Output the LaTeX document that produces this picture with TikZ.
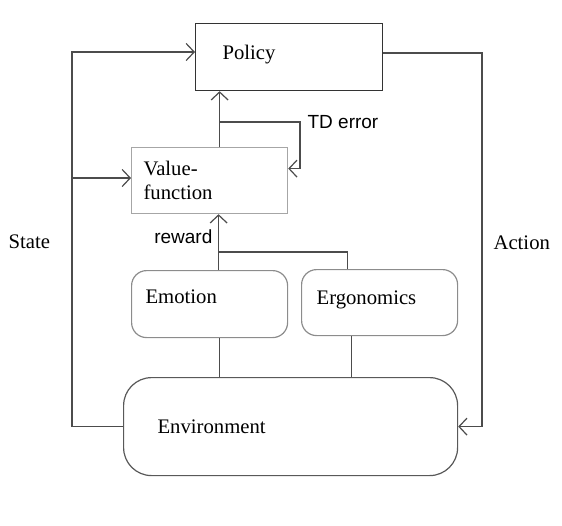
\documentclass[tikz,border=0pt]{standalone}
\usepackage{fontspec}
\setmainfont{Liberation Serif}
\newfontfamily\labelfont{Liberation Sans}
\usetikzlibrary{arrows.meta}

\begin{document}
\begin{tikzpicture}[
		x=1pt, y=-1pt,
		line width=1.2pt,
		every node/.style={font=\fontsize{20.7}{24}\selectfont},
		block/.style={draw, anchor=north west, align=left, inner ysep=0pt},
		wire/.style={draw=black!70},
		arr/.style={wire, -{Straight Barb[length=8pt,width=17pt]}},
		sidelabel/.style={font=\labelfont\fontsize{19}{22}\selectfont, inner sep=0pt}
		]
		\useasboundingbox (0,0) rectangle (562,525);
		
		% boxes
		\node[block, draw=black!80, minimum height=67pt, inner xsep=27pt, text width=133pt, text depth=9pt] (policy) at (195,23) {Policy};
		\node[block, draw=black!35, minimum height=66pt, inner xsep=12pt, text width=132pt] (value) at (131,147) {Value-\\function};
		\node[block, draw=black!45, rounded corners=15pt, minimum height=67pt, inner xsep=14pt, text width=128pt, text depth=15pt] (emotion) at (131,270) {Emotion};
		\node[block, draw=black!45, rounded corners=15pt, minimum height=66pt, inner xsep=15pt, text width=126pt, text depth=10pt] (ergo) at (301,269) {Ergonomics};
		\node[block, draw=black!65, rounded corners=28pt, minimum height=98pt, inner xsep=34pt, text width=266pt] (env) at (123,377) {Environment};
		
		% junctions
		\coordinate (tdfork) at (219,122);
		\coordinate (tdturn) at (300,122);
		\coordinate (stateup) at (72,52);
		\coordinate (statemid) at (72,178);
		\coordinate (act) at (482,53);
		\coordinate (rwfork) at (218,252);
		
		% value -> policy, TD error loop
		\draw[arr] ([xshift=10pt]value.north) -- ([xshift=10pt]value.north |- policy.south);
		\draw[arr] (tdfork) -- (tdturn) |- ([yshift=12pt]value.east);
		\node[sidelabel, anchor=west] (tdlabel) at (307,122) {TD error};
		
		% state
		\draw[arr] (env.west) -| (stateup) -- (stateup -| policy.west);
		\draw[arr] (statemid) -- (statemid -| value.west);
		\node[inner sep=0pt, anchor=west] (statelabel) at (8,242) {State};
		
		% action
		\draw[arr] (policy.east |- act) -- (act) |- (env.east);
		\node[inner sep=0pt, anchor=west] (actlabel) at (493,243) {Action};
		
		% reward
		\draw[arr] ([xshift=9pt]emotion.north) -- ([xshift=9pt]emotion.north |- value.south);
		\draw[wire] (rwfork) -| ([xshift=-32pt]ergo.north);
		\node[sidelabel, anchor=east] (rwlabel) at (213,237) {reward};
		
		% environment -> emotion, ergonomics
		\draw[wire] ([xshift=10pt]emotion.south) -- ([xshift=10pt]emotion.south |- env.north);
		\draw[wire] ([xshift=-28pt]ergo.south) -- ([xshift=-28pt]ergo.south |- env.north);
		
	\end{tikzpicture}
\end{document}
